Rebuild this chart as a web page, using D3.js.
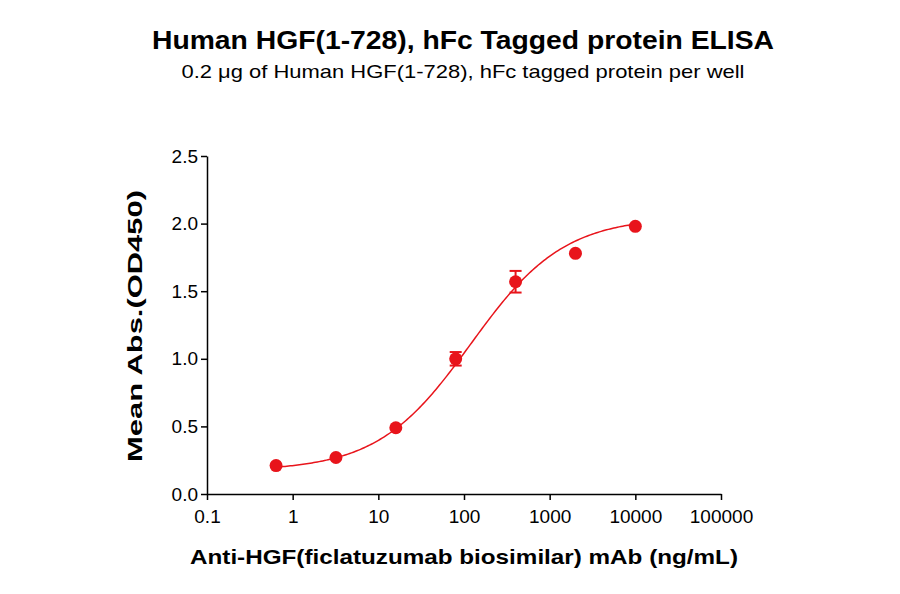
<!DOCTYPE html>
<html><head><meta charset="utf-8">
<script src="https://cdn.jsdelivr.net/npm/d3@7"></script>
<style>body{margin:0;background:#fff}text{font-family:Arial,"Liberation Sans",sans-serif}</style>
</head><body><svg id="c" width="900" height="594"></svg>
<script>
var conc = [0.64, 3.2, 16, 80, 400, 2000, 10000];
var absMean = [0.21, 0.27, 0.49, 1.0, 1.57, 1.78, 1.98];
var absErr = [0.01, 0.01, 0.01, 0.05, 0.08, 0.02, 0.01];
// 4PL fit parameters: bottom, top, EC50, hill
var fit = [0.17, 2.05, 120, 0.8];
var xTicks = [0.1, 1, 10, 100, 1000, 10000, 100000];
var yTicks = [0, 0.5, 1.0, 1.5, 2.0, 2.5];

var svg = d3.select("#c");
var x = d3.scaleLog().domain([0.1, 100000]).range([207, 721]);
var y = d3.scaleLinear().domain([0, 2.5]).range([494, 156]);
var red = "#e8141b";

svg.append("text").attr("x", 463).attr("y", 49).attr("text-anchor", "middle")
    .attr("font-size", 25).attr("font-weight", "bold").attr("textLength", 622).attr("lengthAdjust", "spacingAndGlyphs")
    .text("Human HGF(1-728), hFc Tagged protein ELISA");
svg.append("text").attr("x", 463).attr("y", 78).attr("text-anchor", "middle")
    .attr("font-size", 19).attr("textLength", 563).attr("lengthAdjust", "spacingAndGlyphs")
    .text("0.2 μg of Human HGF(1-728), hFc tagged protein per well");

var gx = svg.append("g").attr("transform", "translate(0,494)")
    .call(d3.axisBottom(x).tickValues(xTicks).tickFormat(d => String(d)).tickSize(6).tickSizeOuter(0));
var gy = svg.append("g").attr("transform", "translate(207,0)")
    .call(d3.axisLeft(y).tickValues(yTicks).tickFormat(d3.format(".1f")).tickSize(6).tickSizeOuter(0));
[gx, gy].forEach(g => {
    g.selectAll("path,line").attr("stroke", "#000").attr("stroke-width", 1.5);
    g.selectAll("text").attr("font-size", 19).attr("fill", "#000");
});
gx.selectAll("text").attr("dy", "1.05em");

svg.append("text").attr("x", 464).attr("y", 564).attr("text-anchor", "middle")
    .attr("font-size", 21).attr("font-weight", "bold").attr("textLength", 548).attr("lengthAdjust", "spacingAndGlyphs")
    .text("Anti-HGF(ficlatuzumab biosimilar) mAb (ng/mL)");
svg.append("text").attr("transform", "translate(142,326) rotate(-90)").attr("text-anchor", "middle")
    .attr("font-size", 21).attr("font-weight", "bold").attr("textLength", 272).attr("lengthAdjust", "spacingAndGlyphs")
    .text("Mean Abs.(OD450)");

var f = c => fit[0] + (fit[1] - fit[0]) / (1 + Math.pow(fit[2] / c, fit[3]));
var curveX = d3.range(0, 201).map(i => Math.pow(10, Math.log10(conc[0]) + i / 200 * (Math.log10(conc[conc.length - 1]) - Math.log10(conc[0]))));
svg.append("path").datum(curveX)
    .attr("d", d3.line().x(c => x(c)).y(c => y(f(c))))
    .attr("fill", "none").attr("stroke", red).attr("stroke-width", 1.5);

var pts = svg.append("g").selectAll("g").data(conc).enter().append("g");
pts.filter((d, i) => absErr[i] > 0.02).each(function (d) {
    var j = conc.indexOf(d), g = d3.select(this);
    var lo = y(absMean[j] - absErr[j]), hi = y(absMean[j] + absErr[j]);
    g.append("line").attr("x1", x(d)).attr("x2", x(d)).attr("y1", lo).attr("y2", hi).attr("stroke", red).attr("stroke-width", 2);
    [lo, hi].forEach(v => g.append("line").attr("x1", x(d) - 6).attr("x2", x(d) + 6).attr("y1", v).attr("y2", v).attr("stroke", red).attr("stroke-width", 2));
});
pts.append("circle").attr("cx", d => x(d)).attr("cy", (d, i) => y(absMean[i])).attr("r", 6.5).attr("fill", red);
</script></body></html>
